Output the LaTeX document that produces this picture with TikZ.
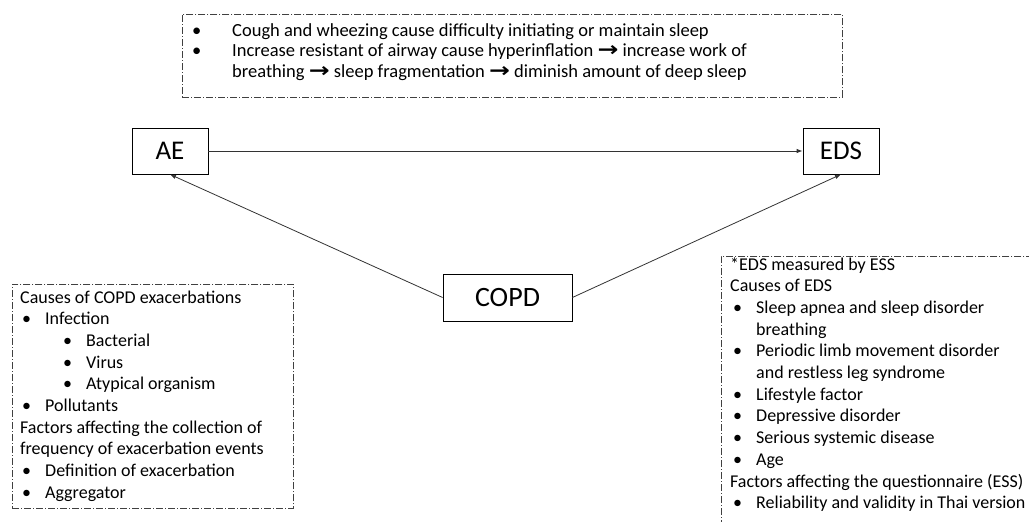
\documentclass[tikz,border=0pt]{standalone}
\usepackage{fontspec}
\setmainfont{Carlito}
\newfontfamily\symfont{DejaVu Sans}
\usetikzlibrary{arrows.meta}
\newcommand\itm[3]{\hspace*{#1pt}\makebox[#2pt][l]{\textbullet}#3}
\newcommand\ar{ \scalebox{1.35}[1.1]{\symfont\bfseries →} }
\begin{document}
\begin{tikzpicture}[x=1pt,y=-1pt,
  dbox/.style={draw=black!75, line width=0.7pt, dash pattern=on 7pt off 2pt on 1pt off 2pt, inner sep=0pt},
  sbox/.style={draw=black, line width=0.8pt, inner sep=0pt},
  txt/.style={align=left, inner sep=0pt, anchor=base west, font=\fontsize{18}{21.7}\selectfont},
  arr/.style={draw=black!80, line width=0.8pt, -{Latex[length=6pt,width=4.5pt]}}]
\useasboundingbox (0,0) rectangle (1029,522);
\clip (0,0) rectangle (1029,522);
\fill[white] (0,0) rectangle (1029,522);
% top box
\node[dbox, minimum width=660pt, minimum height=83pt, anchor=north west] (tbox) at (182,14) {};
\node[txt, font=\fontsize{18.5}{20.7}\selectfont] (ttxt) at (192,77.4) {%
\itm{0}{40}{Cough and wheezing cause difficulty initiating or maintain sleep}\\
\itm{0}{40}{Increase resistant of airway cause hyperinflation\ar increase work of}\\
\hspace*{40pt}breathing\ar sleep fragmentation\ar diminish amount of deep sleep};
% main boxes
\node[sbox, minimum width=76pt, minimum height=46pt, font=\fontsize{27}{30}\selectfont] (ae) at (170,151) {AE};
\node[sbox, minimum width=76pt, minimum height=46pt, font=\fontsize{27}{30}\selectfont] (eds) at (841,151) {EDS};
\node[sbox, minimum width=129pt, minimum height=47pt, font=\fontsize{28}{30}\selectfont] (copd) at (507.5,297.5) {COPD};
\draw[arr] (ae.east) -- (eds.west);
\draw[arr] (copd.west) -- (ae.south);
\draw[arr] (copd.east) -- (eds.south);
% left box
\node[dbox, minimum width=281pt, minimum height=224pt, anchor=north west] (lbox) at (12,284) {};
\node[txt] (ltxt) at (20,498.3) {%
Causes of COPD exacerbations\\
\itm{2}{23}{Infection}\\
\itm{43}{23}{Bacterial}\\
\itm{43}{23}{Virus}\\
\itm{43}{23}{Atypical organism}\\
\itm{2}{23}{Pollutants}\\
Factors affecting the collection of\\
frequency of exacerbation events\\
\itm{2}{23}{Definition of exacerbation}\\
\itm{2}{23}{Aggregator}};
% right box
\node[dbox, minimum width=330pt, minimum height=300pt, anchor=north west] (rbox) at (721,256) {};
\node[txt] (rtxt) at (730,508.7) {%
*EDS measured by ESS\\
Causes of EDS\\
\itm{3}{23}{Sleep apnea and sleep disorder}\\
\hspace*{26pt}breathing\\
\itm{3}{23}{Periodic limb movement disorder}\\
\hspace*{26pt}and restless leg syndrome\\
\itm{3}{23}{Lifestyle factor}\\
\itm{3}{23}{Depressive disorder}\\
\itm{3}{23}{Serious systemic disease}\\
\itm{3}{23}{Age}\\
Factors affecting the questionnaire (ESS)\\
\itm{3}{23}{Reliability and validity in Thai version}};
\end{tikzpicture}
\end{document}
